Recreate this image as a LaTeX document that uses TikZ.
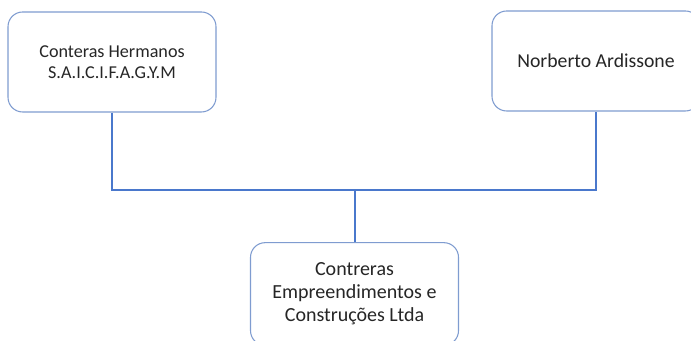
\documentclass[tikz,border=0pt]{standalone}
\usepackage{fontspec}
\setmainfont{Carlito}
\definecolor{linkblue}{HTML}{4A78CC}
\definecolor{boxblue}{HTML}{7F9CD0}
\definecolor{txtgray}{HTML}{262626}
\tikzset{
  firm/.style={draw=boxblue, line width=0.8pt, rounded corners=11pt, fill=white,
    minimum width=156pt, minimum height=75pt, align=center, text=txtgray,
    inner sep=2pt},
  link/.style={draw=linkblue, line width=1.5pt}
}

\begin{document}
\begin{tikzpicture}[x=0.75pt,y=0.75pt]
  \useasboundingbox (0,0) rectangle (691,341);

  % owners
  \node[firm, font=\fontsize{13.6}{15.8}\selectfont] (hermanos) at (112,279)
    {Conteras Hermanos\\S.A.I.C.I.F.A.G.Y.M};
  \node[firm, font=\fontsize{14.8}{17}\selectfont] (norberto) at (596,280)
    {Norberto Ardissone};

  % company
  \node[firm, minimum height=77pt, font=\fontsize{15}{17.3}\selectfont] (contreras) at (354.5,47)
    {Contreras\\Empreendimentos e\\Construções Ltda};

  % links
  \coordinate (join) at (354.5,151);
  \draw[link] (hermanos.south) |- (join) -| (norberto.south);
  \draw[link] (join) -- (contreras.north);
\end{tikzpicture}
\end{document}
